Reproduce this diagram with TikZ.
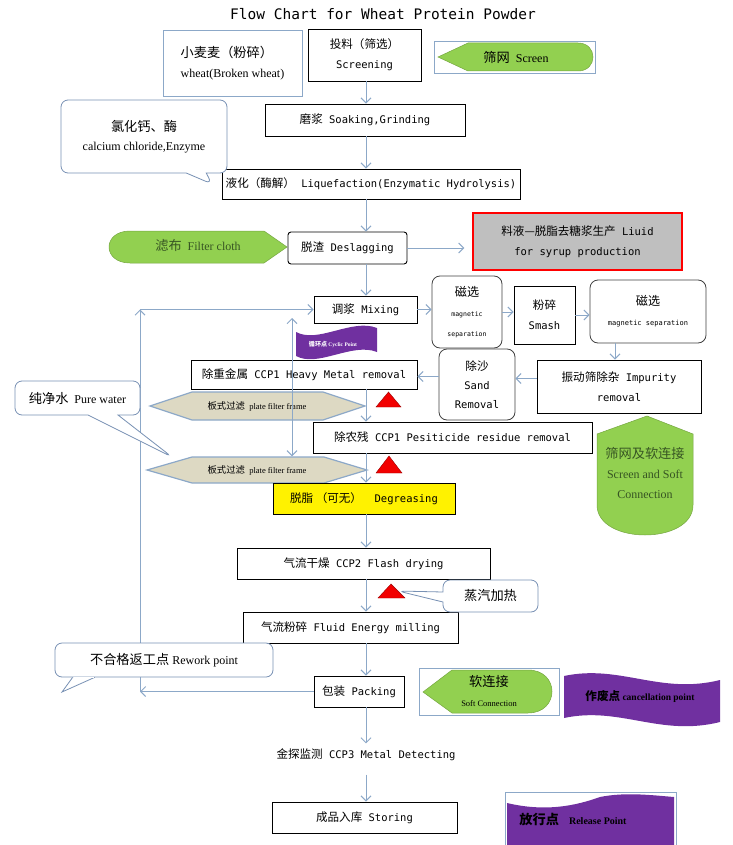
\documentclass[tikz,border=0pt]{standalone}
\usepackage{fontspec}
\setmainfont{Liberation Serif}
\setmonofont{DejaVu Sans Mono}
\newfontfamily\cjk{Noto Sans CJK SC}[Scale=1.1]
\usetikzlibrary{arrows.meta,shapes.callouts}

\definecolor{lineblue}{RGB}{140,168,200}
\definecolor{frameblue}{RGB}{120,145,180}
\definecolor{leafgreen}{RGB}{146,208,80}
\definecolor{darkleaf}{RGB}{55,85,35}
\definecolor{platetan}{RGB}{221,217,195}
\definecolor{flagpurple}{RGB}{112,48,160}
\definecolor{syrupgrey}{RGB}{191,191,191}

\begin{document}
\begin{tikzpicture}[
    x=1pt, y=-1pt,
    font=\ttfamily\fontsize{10.5}{20}\selectfont,
    box/.style={draw, line width=0.9pt, fill=white, align=center, inner sep=1pt},
    rbox/.style={draw=black!75, line width=0.8pt, rounded corners=8pt, fill=white,
                 align=center, inner sep=1pt},
    framebox/.style={draw=lineblue, line width=0.8pt},
    note/.style={rectangle callout, draw=frameblue, line width=0.8pt, fill=white,
                 rounded corners=7pt, align=center, font=\rmfamily\fontsize{12}{19}\selectfont},
    bubble/.style={rectangle, draw=frameblue, line width=0.8pt, fill=white,
                   rounded corners=7pt, align=center, font=\rmfamily\fontsize{12}{19}\selectfont},
    leaf/.style={fill=leafgreen, draw=leafgreen!80!black, line width=0.5pt},
    plate/.style={fill=platetan, draw=lineblue, line width=1.2pt},
    plabel/.style={font=\rmfamily\fontsize{8.5}{10}\selectfont, minimum height=27pt},
    flag/.style={fill=flagpurple},
    warn/.style={fill=red!95!black, draw=red!60!black, line width=0.4pt},
    arr/.style={-{Straight Barb[length=5pt,width=10pt]}, line width=1pt, lineblue},
    dbl/.style={arr, {Straight Barb[length=5pt,width=10pt]}-{Straight Barb[length=5pt,width=10pt]}}
]
    \path[use as bounding box] (0,0) rectangle (732,845);
    \coordinate (col) at (366,0);

    \node[font=\ttfamily\fontsize{14.5}{17}\selectfont] (title) at (383,14)
        {Flow Chart for Wheat Protein Powder};

    \node[framebox, minimum width=139pt, minimum height=66pt, align=left,
          font=\rmfamily\fontsize{12}{20}\selectfont] (wheat) at (232.5,63)
        {{\cjk 小麦麦（粉碎）}\\wheat(Broken wheat)};
    \node[box, minimum width=113pt, minimum height=52pt] (screening) at (364.5,55)
        {{\cjk 投料（筛选）}\\Screening};

    \node[framebox, minimum width=161pt, minimum height=32pt] (screenfr) at (514.5,57) {};
    \filldraw[leaf] (438,57) -- (468,43) -- (578,43) .. controls (598,43) and (598,71) ..
        (578,71) -- (468,71) -- cycle;
    \node[font=\rmfamily\fontsize{12}{14}\selectfont] (screen) at (516,57)
        {{\cjk 筛网}\ \ Screen};

    \node[box, minimum width=200pt, minimum height=32pt] (soak) at (365,120)
        {{\cjk 磨浆}\ Soaking,Grinding};
    \node[box, minimum width=298pt, minimum height=30pt] (liq) at (371,184)
        {{\cjk 液化（酶解）}\ Liquefaction(Enzymatic Hydrolysis)};

    \filldraw[leaf] (287,247) -- (264,231) -- (130,231) .. controls (102,231) and (102,263) ..
        (130,263) -- (264,263) -- cycle;
    \node[font=\rmfamily\fontsize{12}{14}\selectfont, text=darkleaf] (cloth) at (198,246)
        {{\cjk 滤布}\ \ Filter cloth};
    \node[box, rounded corners=3pt, minimum width=119pt, minimum height=32pt] (deslag)
        at (347.5,248) {{\cjk 脱渣}\ Deslagging};
    \node[box, draw=red, fill=syrupgrey, line width=1.2pt, minimum width=209pt,
          minimum height=57pt] (syrup) at (577.5,241.5)
        {{\cjk 料液—脱脂去糖浆生产}\ Liuid\\for syrup production};

    \node[box, minimum width=103pt, minimum height=27pt] (mixing) at (365.5,309.5)
        {{\cjk 调浆}\ Mixing};
    \node[rbox, minimum width=70pt, minimum height=72pt,
          font=\ttfamily\fontsize{6.5}{20}\selectfont] (mag1) at (467,312)
        {{\cjk\fontsize{11}{20}\selectfont 磁选}\\magnetic\\separation};
    \node[box, minimum width=61pt, minimum height=58pt] (smash) at (544.5,315)
        {{\cjk 粉碎}\\Smash};
    \node[rbox, minimum width=116pt, minimum height=63pt,
          font=\ttfamily\fontsize{7}{20}\selectfont] (mag2) at (648,311.5)
        {{\cjk\fontsize{11}{20}\selectfont 磁选}\\magnetic separation};
    \node[box, minimum width=164pt, minimum height=53pt] (impur) at (619,386.5)
        {{\cjk 振动筛除杂}\ Impurity\\removal};
    \node[rbox, minimum width=76pt, minimum height=71pt,
          font=\ttfamily\fontsize{10.5}{19}\selectfont] (sand) at (477,384.5)
        {{\cjk 除沙}\\Sand\\Removal};

    \fill[flag] (296,332) .. controls (318,344) and (352,318) .. (377,328) -- (377,352)
        .. controls (352,342) and (318,368) .. (296,356) -- cycle;
    \node[font=\rmfamily\bfseries\fontsize{5.5}{6}\selectfont, text=white] (cyclic) at (333,345)
        {{\cjk 循环点}\ Cyclic Point};
    \node[box, minimum width=226pt, minimum height=29pt] (heavy) at (304,374.5)
        {{\cjk 除重金属}\ CCP1 Heavy Metal removal};

    \filldraw[plate] (150,406) -- (192,392) -- (323,392) -- (365,406) -- (323,420)
        -- (192,420) -- cycle;
    \node[plabel] (pf1) at (257,406) {{\cjk 板式过滤}\ \ plate filter frame};
    \filldraw[plate] (147,470) -- (192,457) -- (324,457) -- (367,470) -- (324,483)
        -- (192,483) -- cycle;
    \node[plabel] (pf2) at (257,470) {{\cjk 板式过滤}\ \ plate filter frame};

    \filldraw[warn] (376,407) -- (401,407) -- (388.5,392) -- cycle;
    \filldraw[warn] (376,473) -- (402,473) -- (389,456) -- cycle;
    \filldraw[warn] (378,598) -- (405,598) -- (391,584) -- cycle;
    \coordinate (heat) at (398,591);

    \node[box, minimum width=279pt, minimum height=31pt] (pest) at (452.5,437.5)
        {{\cjk 除农残}\ CCP1 Pesiticide residue removal};

    \filldraw[leaf] (647,416) -- (693,434) -- (693,505) .. controls (693,545) and (597,545) ..
        (597,505) -- (597,434) -- cycle;
    \node[align=center, font=\rmfamily\fontsize{12}{20}\selectfont, text=darkleaf] (scrsoft)
        at (645,473) {{\cjk 筛网及软连接}\\Screen and Soft\\Connection};

    \node[box, fill=yellow, minimum width=182pt, minimum height=31pt] (degr) at (364,498.5)
        {{\cjk 脱脂\ （可无）}\ \ Degreasing};
    \node[box, minimum width=253pt, minimum height=31pt] (flash) at (363.5,563.5)
        {{\cjk 气流干燥}\ CCP2 Flash drying};
    \node[box, minimum width=215pt, minimum height=31pt] (fluid) at (350.5,627.5)
        {{\cjk 气流粉碎}\ Fluid Energy milling};
    \node[box, minimum width=90pt, minimum height=31pt] (pack) at (359,691.5)
        {{\cjk 包装}\ Packing};

    \node[framebox, minimum width=140pt, minimum height=47pt] (softfr) at (489,691.5) {};
    \filldraw[leaf] (423,692) -- (452,670) -- (528,670) .. controls (560,670) and (560,713) ..
        (528,713) -- (452,713) -- cycle;
    \node[align=center, font=\rmfamily\fontsize{8.5}{20}\selectfont] (soft) at (489,691)
        {{\cjk\fontsize{12}{20}\selectfont 软连接}\\Soft Connection};

    \fill[flag] (564,676) .. controls (620,664) and (660,695) .. (720,680) -- (720,722)
        .. controls (660,737) and (620,706) .. (564,718) -- cycle;
    \node[font=\rmfamily\bfseries\fontsize{9.5}{12}\selectfont] (cancel) at (640,697)
        {{\cjk\fontsize{10.5}{12}\selectfont 作废点}\ cancellation point};

    \node (detect) at (366,755) {{\cjk 金探监测}\ CCP3 Metal Detecting};
    \node[box, minimum width=185pt, minimum height=31pt] (store) at (364.5,817.5)
        {{\cjk 成品入库}\ Storing};

    \node[framebox, minimum width=171pt, minimum height=53pt] (relfr) at (590.5,818.5) {};
    \fill[flag] (507,803) .. controls (545,812) and (575,806) .. (600,797)
        .. controls (625,792) and (650,795) .. (674,797) -- (674,845) -- (507,845) -- cycle;
    \node[font=\rmfamily\bfseries\fontsize{10}{12}\selectfont] (release) at (573,819)
        {{\cjk\fontsize{12}{14}\selectfont 放行点}\quad Release Point};

    \draw[arr] (screening.south -| col) -- (soak.north -| col);
    \draw[arr] (soak.south -| col) -- (liq.north -| col);
    \draw[arr] (liq.south -| col) -- (deslag.north -| col);
    \draw[arr, shorten >=8pt] (deslag.east) -- (deslag.east -| syrup.west);
    \draw[arr] (deslag.south -| col) -- (mixing.north -| col);
    \draw[arr] (mixing.east) -- (mixing.east -| mag1.west);
    \draw[arr] (mag1.east) -- (mag1.east -| smash.west);
    \draw[arr] (smash.east) -- (smash.east -| mag2.west);
    \draw[arr] ([xshift=-33pt]mag2.south) -- ([xshift=-33pt]mag2.south |- impur.north);
    \draw[arr] ([yshift=8pt]impur.west) -- ([yshift=8pt]impur.west -| sand.east);
    \draw[arr] ([yshift=8pt]sand.west) -- ([yshift=8pt]sand.west -| heavy.east);
    \draw[arr] (heavy.south -| col) -- (pest.north -| col);
    \draw[arr] (pest.south -| col) -- (degr.north -| col);
    \draw[arr] (degr.south -| col) -- (flash.north -| col);
    \draw[arr] (flash.south -| col) -- (fluid.north -| col);
    \draw[arr] (fluid.south -| col) -- (pack.north -| col);
    \draw[arr, shorten >=2pt] (pack.south -| col) -- (detect.north -| col);
    \draw[arr, shorten <=10pt] (detect.south -| col) -- (store.north -| col);

    \coordinate (rw) at (140,691.5);
    \coordinate (fbtop) at (140,309.5);
    \draw[arr] (pack.west) -- (rw);
    \draw[arr] (rw) -- (fbtop);
    \draw[arr] (fbtop) -- (mixing.west);

    \node[note, minimum width=166pt, minimum height=73pt, callout absolute pointer={(212,184)},
          callout pointer width=20pt] (calc) at (144,136.5)
        {{\cjk 氯化钙、酶}\\calcium chloride,Enzyme};
    \node[note, minimum width=125pt, minimum height=34pt, callout absolute pointer={(172,457)},
          callout pointer width=30pt] (water) at (77.5,398)
        {{\cjk 纯净水}\ \ Pure water};
    \node[note, minimum width=95pt, minimum height=32pt, callout absolute pointer={(heat)},
          callout pointer width=10pt, font=\cjk\fontsize{12}{14}\selectfont] (steam)
        at (490.5,596) {蒸汽加热};
    \node[bubble, minimum width=218pt, minimum height=34pt] (rework) at (164,660)
        {{\cjk 不合格返工点}\ Rework point};
    \filldraw[draw=frameblue, fill=white, line width=0.8pt] ([xshift=18pt]rework.south west)
        -- (62,692) -- ([xshift=40pt]rework.south west);
    \fill[white] ([xshift=19pt,yshift=-0.3pt]rework.south west) rectangle
        ([xshift=39pt,yshift=0.7pt]rework.south west);

    \coordinate (cyc) at (292,318);
    \draw[dbl] (cyc) -- (cyc |- pf2.north);
\end{tikzpicture}
\end{document}
